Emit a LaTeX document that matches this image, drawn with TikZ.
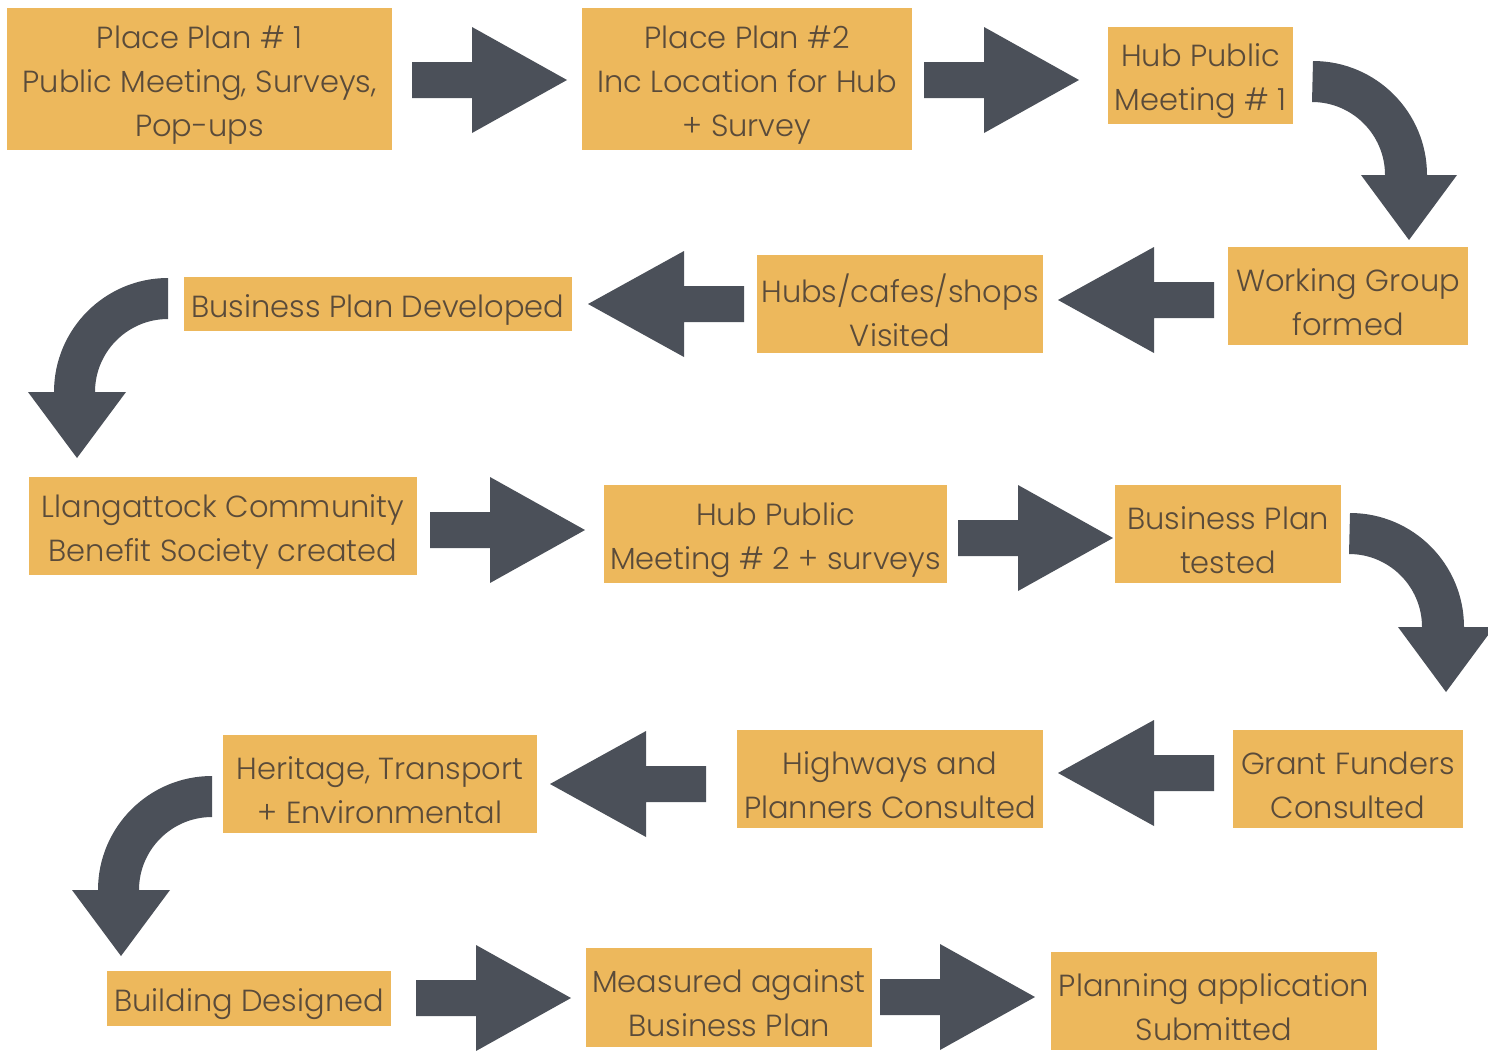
\documentclass[tikz,border=0pt]{standalone}
\usepackage{fontspec}
\setmainfont{Poppins}[UprightFont=* Light]
\usetikzlibrary{calc}
\definecolor{boxfill}{HTML}{EDB85C}
\definecolor{boxtext}{HTML}{5A4B3A}
\definecolor{arrowgray}{HTML}{4B5059}
\newcommand\BlkRight[2]{% shaft start x, center y
  \fill[arrowgray] (#1,#2-18) -- ++(60,0) -- ++(0,-35) -- ++(95,53) -- ++(-95,53) -- ++(0,-35) -- ++(-60,0) -- cycle;}
\newcommand\BlkLeft[2]{% shaft start x (right end), center y
  \fill[arrowgray] (#1,#2-18) -- ++(-60,0) -- ++(0,-35) -- ++(-96,53) -- ++(96,53) -- ++(0,-35) -- ++(60,0) -- cycle;}
\newcommand\CurveRight[2]{% arc centre x,y
  \fill[arrowgray] (#1,#2-114) arc[start angle=-90,end angle=0,radius=114] -- ++(30,0) -- ++(-48,65) -- ++(-48,-65) -- ++(24,0) arc[start angle=0,end angle=-90,radius=73] -- cycle;}
\newcommand\CurveLeft[2]{%
  \fill[arrowgray] (#1,#2-114) arc[start angle=-90,end angle=-180,radius=114] -- ++(-26,0) -- ++(49,66) -- ++(49,-66) -- ++(-31,0) arc[start angle=180,end angle=270,radius=73] -- cycle;}
% box node + its text, text set 6px lower than the box centre
\newcommand\StepNode[6]{% name, x, y, width, height, text
  \node[stepbox,minimum width=#4,minimum height=#5] (#1) at (#2,#3) {};
  \node[steptext] (#1-t) at ($(#1.center)+(0,6)$) {#6};}
\begin{document}
\begin{tikzpicture}[x=1pt,y=-1pt,
  stepbox/.style={fill=boxfill,inner sep=0pt},
  steptext/.style={text=boxtext,inner sep=0pt,align=center,
    font=\fontsize{30.5}{44}\selectfont}]
\useasboundingbox[fill=white] (0,0) rectangle (1488,1050);
% boxes
\StepNode{p1}{199.5}{79}{385}{142}{Place Plan \# 1\\Public Meeting, Surveys,\\Pop-ups}
\StepNode{p2}{747}{79}{330}{142}{Place Plan \#2\\Inc Location for Hub\\+ Survey}
\StepNode{h1}{1200.5}{75.5}{185}{97}{Hub Public\\Meeting \# 1}
\StepNode{wg}{1348}{296}{240}{98}{Working Group\\formed}
\StepNode{hv}{900}{304}{286}{98}{Hubs/cafes/shops\\Visited}
\StepNode{bd}{378}{304}{388}{54}{Business Plan Developed}
\StepNode{lc}{223}{526}{388}{98}{Llangattock Community\\Benefit Society created}
\StepNode{h2}{775.5}{534}{343}{98}{Hub Public\\Meeting \# 2 + surveys}
\StepNode{bt}{1228}{534}{226}{98}{Business Plan\\tested}
\StepNode{gf}{1348}{779}{230}{98}{Grant Funders\\Consulted}
\StepNode{hp}{890}{779}{306}{98}{Highways and\\Planners Consulted}
\StepNode{he}{380}{784}{314}{98}{Heritage, Transport\\+ Environmental}
\StepNode{bg}{249}{998}{284}{55}{Building Designed}
\StepNode{mb}{729}{997.5}{286}{99}{Measured against\\Business Plan}
\StepNode{pa}{1214}{1001}{326}{98}{Planning application\\Submitted}
% straight arrows
\BlkRight{412}{80}
\BlkRight{924}{80}
\BlkLeft{1214}{300}
\BlkLeft{744}{304}
\BlkRight{430}{530}
\BlkRight{958}{538}
\BlkLeft{1214}{773}
\BlkLeft{706}{784}
\BlkRight{416}{998}
\BlkRight{880}{997}
% curved arrows
\CurveRight{1313}{175}
\CurveLeft{168}{392}
\CurveRight{1350}{627}
\CurveLeft{212}{890}
\end{tikzpicture}
\end{document}
